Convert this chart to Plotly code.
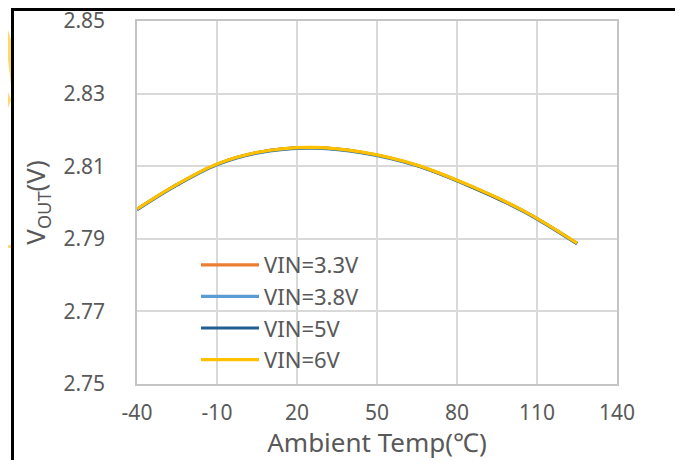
import plotly.graph_objects as go

temps = [-40, -25, -10, 5, 25, 45, 65, 85, 105, 125]
vin_33 = [2.7981, 2.8049, 2.8105, 2.8137, 2.8151, 2.8137, 2.8102, 2.8045, 2.7976, 2.7887]
vin_38 = [2.7980, 2.8048, 2.8104, 2.8136, 2.8150, 2.8136, 2.8101, 2.8044, 2.7975, 2.7886]
vin_5 = [2.7981, 2.8049, 2.8105, 2.8137, 2.8151, 2.8137, 2.8102, 2.8045, 2.7976, 2.7887]
vin_6 = [2.7982, 2.8050, 2.8106, 2.8138, 2.8152, 2.8138, 2.8103, 2.8046, 2.7977, 2.7888]

series_names = ["VIN=3.3V", "VIN=3.8V", "VIN=5V", "VIN=6V"]
series_vals = [vin_33, vin_38, vin_5, vin_6]
series_colors = ["#ED7D31", "#5B9BD5", "#255E91", "#FFC000"]

x_ticks = [-40, -10, 20, 50, 80, 110, 140]
y_ticks = [2.75, 2.77, 2.79, 2.81, 2.83, 2.85]

# page has an 8px body margin; keep the figure inside the window (no scrollbars)
OFF = 8
W, H = 683 - OFF, 468 - 2 * OFF
PL, PT, PW, PH = 137, 21, 480, 363          # plot area in window pixels
ML, MT = PL - OFF, PT - OFF
MR, MB = W - ML - PW, H - MT - PH

def px(x):
    return (x - PL) / PW

def py(y):
    return (PT + PH - y) / PH

fig = go.Figure()
for name, vals, col in zip(series_names, series_vals, series_colors):
    fig.add_trace(go.Scatter(x=temps, y=vals, name=name, mode="lines",
                             line=dict(color=col, width=3.2, shape="spline", smoothing=1.0)))

FONT = "Noto Sans, Liberation Sans, Arial, sans-serif"
TXT = "#595959"

fig.update_layout(
    width=W, height=H,
    margin=dict(l=ML, r=MR, t=MT, b=MB, pad=0),
    paper_bgcolor="white", plot_bgcolor="white",
    font=dict(family=FONT, color=TXT, size=21),
    showlegend=True,
    legend=dict(x=px(196), y=py(244), xanchor="left", yanchor="top",
                bgcolor="rgba(0,0,0,0)", font=dict(size=22, color=TXT),
                itemwidth=58, tracegroupgap=0),
    xaxis=dict(range=[-40, 140], tickvals=x_ticks, ticktext=[str(v) for v in x_ticks],
               showgrid=True, gridcolor="#D9D9D9", gridwidth=1.5,
               showline=True, linecolor="#C4C4C4", linewidth=1.5, mirror=True,
               ticks="", zeroline=False, ticklabelstandoff=9, automargin=False,
               ticklabeloverflow="allow",
               tickfont=dict(size=21, color=TXT),
               title=dict(text="Ambient Temp(℃)", font=dict(size=26, color=TXT), standoff=5)),
    yaxis=dict(range=[2.75, 2.85], tickvals=y_ticks, ticktext=["%.2f" % v for v in y_ticks],
               showgrid=True, gridcolor="#D9D9D9", gridwidth=1.5,
               showline=True, linecolor="#C4C4C4", linewidth=1.5, mirror=True,
               ticks="", zeroline=False, ticklabelstandoff=26, automargin=False,
               ticklabeloverflow="allow",
               tickfont=dict(size=21, color=TXT),
               title=dict(text="V<sub>OUT</sub>(V)", font=dict(size=26, color=TXT), standoff=10)),
)

# watermark fragments (outside the chart border)
wm = "rgba(255,204,51,0.75)"
def poly(points):
    d = "M" + " L".join("%f,%f" % (px(a), py(b)) for a, b in points) + " Z"
    return dict(type="path", xref="paper", yref="paper", path=d,
                fillcolor=wm, line=dict(width=0), layer="below")

fig.add_shape(poly([(8, 30), (11, 40), (11, 85), (8, 60)]))
fig.add_shape(poly([(8, 92), (11, 100), (8, 108)]))
fig.add_shape(poly([(8, 245), (11, 245), (11, 248), (8, 248)]))
fig.add_shape(poly([(66, 8), (108, 8), (104, 10), (70, 10)]))
fig.add_shape(poly([(164, 8), (184, 8), (182, 10), (166, 10)]))

# outer black border (top edge as high as the page allows)
fig.add_shape(type="rect", xref="paper", yref="paper",
              x0=px(12.5), x1=px(679.5), y0=py(480), y1=py(9.5),
              line=dict(color="black", width=3), fillcolor="rgba(0,0,0,0)", layer="above")

fig.write_html("out.html")
